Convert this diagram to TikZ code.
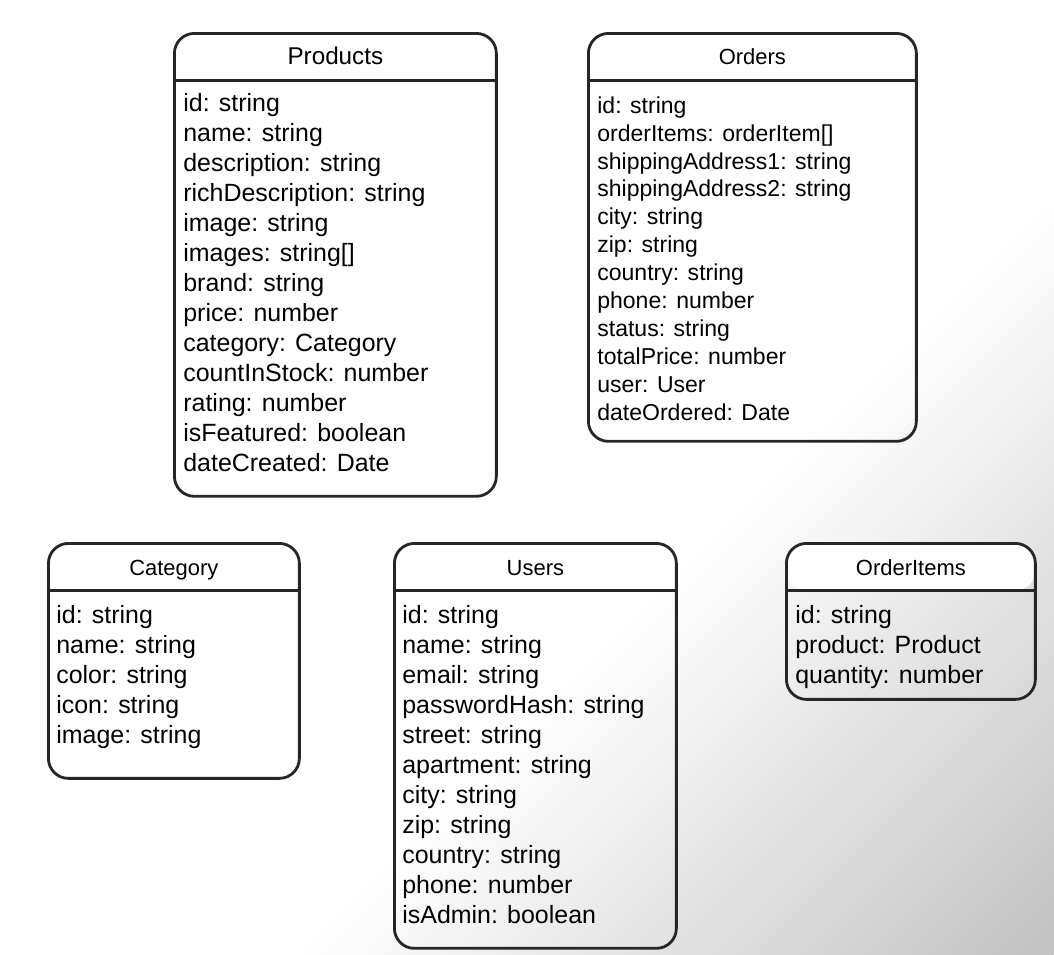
\documentclass[tikz,border=0pt]{standalone}
\usepackage{fontspec}
\setmainfont{Liberation Sans}
\usetikzlibrary{positioning}

\begin{document}
\begin{tikzpicture}[
    x=0.02cm, y=-0.02cm,
    table/.style={draw=black!85, line width=1.6pt, rounded corners=0.4cm,
                  anchor=north west, inner sep=0pt,
                  path picture={
                    \fill[white] (path picture bounding box.north west)
                      rectangle ([yshift=-0.94cm]path picture bounding box.north east);
                    \draw[black!85, line width=1.6pt]
                      ([yshift=-0.94cm]path picture bounding box.north west)
                      -- ([yshift=-0.94cm]path picture bounding box.north east);}},
    title/.style={anchor=base, inner sep=0pt, font=\fontsize{12.5}{15}\selectfont},
    fields/.style={align=left, inner sep=0pt,
                   font=\fontsize{14.2}{17.07}\selectfont},
    smallfields/.style={fields, font=\fontsize{13.1}{15.93}\selectfont}]

% background, grey towards the lower right corner
\useasboundingbox (0,0) rectangle (1054,954);
\begin{scope}
  \clip (0,0) rectangle (1054,954);
  \begin{scope}[transform canvas={rotate around={-45:(527,477)}}]
    \shade[left color=white, right color=black!24] (701,-400) rectangle (1237,1400);
  \end{scope}
\end{scope}

% top row
\node[table, minimum width=6.44cm, minimum height=9.26cm] (products) at (173,32) {};
\node[title, font=\fontsize{13.8}{16}\selectfont] (productstitle) at ([yshift=-0.66cm]products.north) {Products};
\node[fields, below right=1.22cm and 0.2cm of products.north west] (productsfields)
  {id: string\\ name: string\\ description: string\\ richDescription: string\\
   image: string\\ images: string[]\\ brand: string\\ price: number\\
   category: Category\\ countInStock: number\\ rating: number\\
   isFeatured: boolean\\ dateCreated: Date};

\node[table, minimum width=6.56cm, minimum height=8.16cm] (orders) at (587,32) {};
\node[title] (orderstitle) at ([yshift=-0.66cm]orders.north) {Orders};
\node[smallfields, below right=1.28cm and 0.2cm of orders.north west] (ordersfields)
  {id: string\\ orderItems: orderItem[]\\ shippingAddress1: string\\
   shippingAddress2: string\\ city: string\\ zip: string\\ country: string\\
   phone: number\\ status: string\\ totalPrice: number\\ user: User\\
   dateOrdered: Date};

% bottom row
\node[table, minimum width=5.02cm, minimum height=4.7cm] (category) at (47,542) {};
\node[title] (categorytitle) at ([yshift=-0.66cm]category.north) {Category};
\node[fields, below right=1.26cm and 0.18cm of category.north west] (categoryfields)
  {id: string\\ name: string\\ color: string\\ icon: string\\ image: string};

\node[table, minimum width=5.64cm, minimum height=8.1cm] (users) at (393,542) {};
\node[title] (userstitle) at ([yshift=-0.66cm]users.north) {Users};
\node[fields, below right=1.26cm and 0.18cm of users.north west] (usersfields)
  {id: string\\ name: string\\ email: string\\ passwordHash: string\\
   street: string\\ apartment: string\\ city: string\\ zip: string\\
   country: string\\ phone: number\\ isAdmin: boolean};

\node[table, minimum width=4.98cm, minimum height=3.12cm] (orderitems) at (785,542) {};
\node[title] (orderitemstitle) at ([yshift=-0.66cm]orderitems.north) {OrderItems};
\node[fields, below right=1.26cm and 0.2cm of orderitems.north west] (orderitemsfields)
  {id: string\\ product: Product\\ quantity: number};
\end{tikzpicture}
\end{document}
